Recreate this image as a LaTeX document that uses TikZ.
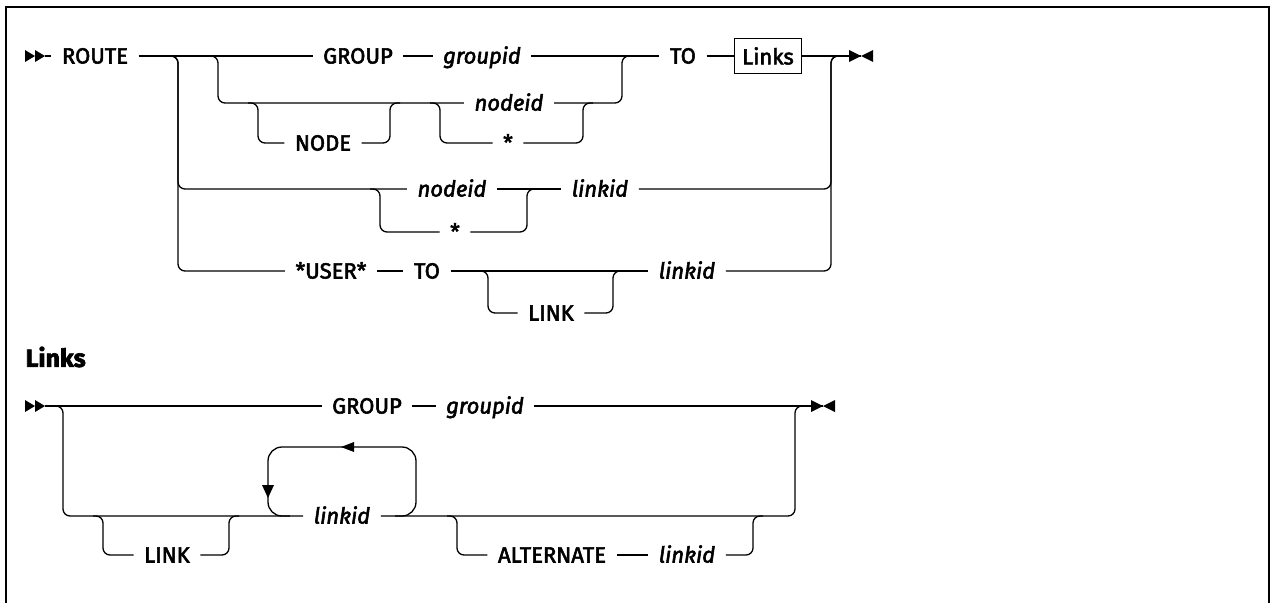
\documentclass[tikz,border=0pt]{standalone}
\usepackage{fontspec}
\setmainfont{Fira Sans}[RawFeature={embolden=2.5}]
\usetikzlibrary{calc}

\begin{document}
\begin{tikzpicture}[x=1pt,y=-1pt,line width=1.3pt,
  kw/.style={inner xsep=10pt,inner ysep=0pt,text height=15pt,text depth=0pt,font=\fontsize{22}{26}\selectfont},
  var/.style={kw,font=\fontsize{22}{26}\selectfont\itshape},
  ref/.style={draw,inner sep=0pt,minimum width=67pt,minimum height=35pt,font=\fontsize{22}{26}\selectfont},
  rc/.style={rounded corners=7pt}]
  \useasboundingbox (0,0) rectangle (1273,603);
  \draw[line width=2pt] (6,603) -- (6,7) -- (1269,7) -- (1269,603);

  % ROUTE statement
  \coordinate (sA) at (25,56);
  \coordinate (eA) at (861,56);
  \node[kw] (route) at (95,56) {ROUTE};
  \node[kw] (grp) at (358,56) {GROUP};
  \node[var] (grpid) at (482,56) {groupid};
  \node[kw] (to) at (683,56) {TO};
  \node[ref] (links) at (768,56) {Links};
  \node[kw] (nodekw) at (323,143) {NODE};
  \node[var] (nodeid) at (509,103) {nodeid};
  \node[kw] (star) at (508,143) {*};
  \node[var] (nodeidb) at (452,189) {nodeid};
  \node[kw] (starb) at (455,232) {*};
  \node[var] (linkid) at (600,189) {linkid};
  \node[kw] (user) at (331,271) {*USER*};
  \node[kw] (tob) at (427,271) {TO};
  \node[kw] (linkkw) at (551,313) {LINK};
  \node[var] (linkidb) at (687,271) {linkid};

  \coordinate (j1) at (178,56);
  \coordinate (j2) at (218,56);
  \coordinate (j3) at (258,103);
  \coordinate (k3) at (390,103);
  \coordinate (j4) at (440,103);
  \coordinate (k4) at (583,103);
  \coordinate (k2) at (622,56);
  \coordinate (j5) at (380,189);
  \coordinate (k5) at (527,189);
  \coordinate (j6) at (488,271);
  \coordinate (k6) at (613,271);
  \coordinate (k1) at (831,56);

  \fill (sA) ++(0,-6) -- ++(10,6) -- ++(-10,6) -- cycle;
  \fill (sA) ++(10,-6) -- ++(10,6) -- ++(-10,6) -- cycle;
  \draw ($(sA)+(20,0)$) -- (route.west);
  \draw (route.east) -- (grp.west);
  \draw (grp.east) -- (grpid.west);
  \draw (grpid.east) -- (to.west);
  \draw (to.east) -- (links.west);
  \draw (links.east) -- (eA);
  \fill (eA) -- ++(-12,-6) -- ++(0,12) -- cycle;
  \fill (eA) -- ++(12,-6) -- ++(0,12) -- cycle;

  \draw[rc] ($(j2)+(-10,0)$) -- (j2) |- (nodeid.west);
  \draw[rc] ($(j3)+(-10,0)$) -- (j3) |- (nodekw.west);
  \draw[rc] (nodekw.east) -| (k3) -- ++(10,0);
  \draw[rc] ($(j4)+(-10,0)$) -- (j4) |- (star.west);
  \draw[rc] (star.east) -| (k4) -- ++(10,0);
  \draw[rc] (nodeid.east) -| (k2) -- ++(10,0);

  \draw[rc] ($(j1)+(-10,0)$) -- (j1) |- (nodeidb.west);
  \draw[rc] ($(j5)+(-10,0)$) -- (j5) |- (starb.west);
  \draw[rc] (starb.east) -| (k5) -- ++(10,0);
  \draw (nodeidb.east) -- (linkid.west);
  \draw[rc] (linkid.east) -| (k1) -- ++(10,0);

  \draw[rc] ($(j1)+(-10,0)$) -- (j1) |- (user.west);
  \draw (user.east) -- (tob.west);
  \draw (tob.east) -- (linkidb.west);
  \draw[rc] ($(j6)+(-10,0)$) -- (j6) |- (linkkw.west);
  \draw[rc] (linkkw.east) -| (k6) -- ++(10,0);
  \draw[rc] (linkidb.east) -| (k1) -- ++(10,0);

  % Links fragment
  \node[anchor=west,inner sep=0pt,font=\fontsize{25}{30}\selectfont\bfseries] (head) at (25,357) {Links};
  \coordinate (sB) at (25,406);
  \coordinate (eB) at (823,406);
  \node[kw] (grpb) at (367,406) {GROUP};
  \node[var] (grpidb) at (485,406) {groupid};
  \node[kw] (linkkwb) at (167,555) {LINK};
  \node[var] (linkidc) at (342,516) {linkid};
  \node[kw] (alt) at (552,555) {ALTERNATE};
  \node[var] (linkidd) at (687,555) {linkid};

  \coordinate (ja) at (63,406);
  \coordinate (jb) at (103,516);
  \coordinate (kb) at (229,516);
  \coordinate (jc) at (457,516);
  \coordinate (kc) at (753,516);
  \coordinate (ka) at (795,406);

  \fill (sB) ++(0,-6) -- ++(10,6) -- ++(-10,6) -- cycle;
  \fill (sB) ++(10,-6) -- ++(10,6) -- ++(-10,6) -- cycle;
  \draw ($(sB)+(20,0)$) -- (grpb.west);
  \draw (grpb.east) -- (grpidb.west);
  \draw (grpidb.east) -- (eB);
  \fill (eB) -- ++(-12,-6) -- ++(0,12) -- cycle;
  \fill (eB) -- ++(12,-6) -- ++(0,12) -- cycle;

  \draw[rc] ($(ja)+(-10,0)$) -- (ja) |- (linkidc.west);
  \draw[rc] ($(jb)+(-10,0)$) -- (jb) |- (linkkwb.west);
  \draw[rc] (linkkwb.east) -| (kb) -- ++(10,0);
  % repeat loop
  \draw[rounded corners=14pt] (290,516) -- (268,516) -- (268,447) -- (416,447) -- (416,516) -- (395,516);
  \fill (341,447) -- ++(13,-5) -- ++(0,10) -- cycle;
  \fill (268,498) -- ++(-6,-13) -- ++(12,0) -- cycle;
  \draw[rc] (linkidc.east) -| (ka) -- ++(10,0);
  \draw[rc] ($(jc)+(-10,0)$) -- (jc) |- (alt.west);
  \draw (alt.east) -- (linkidd.west);
  \draw[rc] (linkidd.east) -| (kc) -- ++(10,0);
\end{tikzpicture}
\end{document}
